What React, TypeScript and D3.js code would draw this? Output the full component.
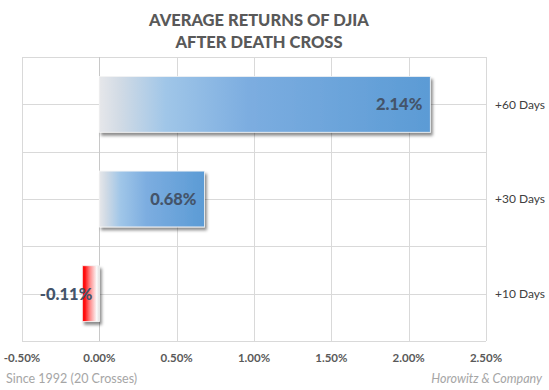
import React, { useEffect, useRef } from 'react';
import * as d3 from 'd3';

// data
const categories = ['+60 Days', '+30 Days', '+10 Days'];
const returns = [2.14, 0.68, -0.11];
const tickValues = [-0.5, 0, 0.5, 1, 1.5, 2, 2.5];
const titleLines = ['AVERAGE RETURNS OF DJIA', 'AFTER DEATH CROSS'];
const sourceNote = 'Since 1992 (20 Crosses)';
const credit = 'Horowitz & Company';

const FONT = 'Lato, "Noto Sans", sans-serif';
const pct = (v: number) => d3.format('.2f')(v).replace('\u2212', '-') + '%';

export default function App() {
  const ref = useRef<SVGSVGElement>(null);

  useEffect(() => {
    const W = 549, H = 390;
    const margin = { top: 57, right: 63, bottom: 49, left: 22 };
    const svg = d3.select(ref.current).attr('width', W).attr('height', H);
    svg.selectAll('*').remove();

    const defs = svg.append('defs');
    // blue fill: light grey at the axis, into blue at the end
    const blue = defs.append('linearGradient').attr('id', 'gradBlue')
      .attr('x1', 0).attr('x2', 1).attr('y1', 0).attr('y2', 0);
    [[0, '#e6e7ea'], [0.06, '#d2dbe5'], [0.2, '#a0c6e8'], [0.45, '#7cade0'], [1, '#5b9bd5']]
      .forEach(([o, c]) => blue.append('stop').attr('offset', o as number).attr('stop-color', c as string));
    // red fill for negative bars, light at the axis side
    const red = defs.append('linearGradient').attr('id', 'gradRed')
      .attr('x1', 1).attr('x2', 0).attr('y1', 0).attr('y2', 0);
    [[0, '#dedede'], [0.15, '#fbfbfb'], [0.55, '#ff8a8a'], [0.85, '#ff1010'], [1, '#ff0000']]
      .forEach(([o, c]) => red.append('stop').attr('offset', o as number).attr('stop-color', c as string));

    const shadow = defs.append('filter').attr('id', 'shadow')
      .attr('x', '-20%').attr('y', '-20%').attr('width', '150%').attr('height', '150%');
    shadow.append('feDropShadow').attr('dx', 2).attr('dy', 3).attr('stdDeviation', 1.8)
      .attr('flood-color', '#000').attr('flood-opacity', 0.45);

    const x = d3.scaleLinear().domain([-0.5, 2.5]).range([margin.left, W - margin.right]);
    const y = d3.scaleBand<string>().domain(categories)
      .range([margin.top, H - margin.bottom]).paddingInner(0.41).paddingOuter(0.205);

    const top = margin.top, bottom = H - margin.bottom;
    const g = svg.append('g');

    // horizontal grid: band edges and band centres
    const half = y.step() / 2;
    const hLines = d3.range(categories.length * 2 + 1).map(i => Math.round(top + i * half) + 0.5);
    g.selectAll('.hgrid').data(hLines).join('line').attr('class', 'hgrid')
      .attr('x1', x(-0.5)).attr('x2', x(2.5))
      .attr('y1', d => d).attr('y2', d => d)
      .attr('stroke', '#d9d9d9').attr('stroke-width', 1);

    // vertical grid
    g.selectAll('.vgrid').data(tickValues).join('line').attr('class', 'vgrid')
      .attr('x1', d => Math.round(x(d)) + 0.5).attr('x2', d => Math.round(x(d)) + 0.5)
      .attr('y1', top).attr('y2', bottom)
      .attr('stroke', d => (d === 0 ? '#c8c8c8' : '#d9d9d9')).attr('stroke-width', 1);

    // tick labels
    g.selectAll('.tick').data(tickValues).join('text').attr('class', 'tick')
      .attr('x', d => x(d)).attr('y', 362)
      .attr('text-anchor', 'middle')
      .attr('font-family', FONT).attr('font-size', 11.5).attr('font-weight', 'bold')
      .attr('fill', '#595959')
      .text(d => pct(d));

    const rows = categories.map((c, i) => ({ c, v: returns[i] }));

    // bars
    g.selectAll('.bar').data(rows).join('rect').attr('class', 'bar')
      .attr('x', d => x(Math.min(0, d.v)))
      .attr('width', d => Math.abs(x(d.v) - x(0)))
      .attr('y', d => y(d.c)!)
      .attr('height', y.bandwidth())
      .attr('fill', d => (d.v < 0 ? 'url(#gradRed)' : 'url(#gradBlue)'))
      .attr('stroke', '#f4f4f4').attr('stroke-width', 0.8)
      .attr('filter', 'url(#shadow)');

    // value labels
    g.selectAll('.val').data(rows).join('text').attr('class', 'val')
      .attr('x', d => (d.v < 0 ? x(d.v) + 10 : x(d.v) - 8))
      .attr('y', d => y(d.c)! + y.bandwidth() / 2)
      .attr('dy', '0.36em')
      .attr('text-anchor', 'end')
      .attr('font-family', FONT).attr('font-size', 16.5).attr('font-weight', 900)
      .attr('fill', '#44546a')
      .text(d => pct(d.v));

    // category labels on the right
    g.selectAll('.cat').data(categories).join('text').attr('class', 'cat')
      .attr('x', 495).attr('y', d => y(d)! + y.bandwidth() / 2)
      .attr('dy', '0.36em')
      .attr('font-family', FONT).attr('font-size', 12)
      .attr('fill', '#404040')
      .text(d => d);

    // title
    svg.selectAll('.title').data(titleLines).join('text').attr('class', 'title')
      .attr('x', 259).attr('y', (d, i) => 26 + i * 22)
      .attr('text-anchor', 'middle')
      .attr('font-family', FONT).attr('font-size', 16.5).attr('font-weight', 900)
      .attr('fill', '#595959')
      .text(d => d);

    svg.append('text').attr('x', 6).attr('y', 383)
      .attr('font-family', FONT).attr('font-size', 12.5).attr('fill', '#a6a6a6')
      .text(sourceNote);

    svg.append('text').attr('x', 542).attr('y', 383).attr('text-anchor', 'end')
      .attr('font-family', FONT).attr('font-size', 12.5).attr('font-style', 'italic')
      .attr('fill', '#a6a6a6')
      .text(credit);
  }, []);

  return (
    <svg ref={ref} style={{ position: 'absolute', left: 0, top: 0, display: 'block', background: '#fff' }} />
  );
}
